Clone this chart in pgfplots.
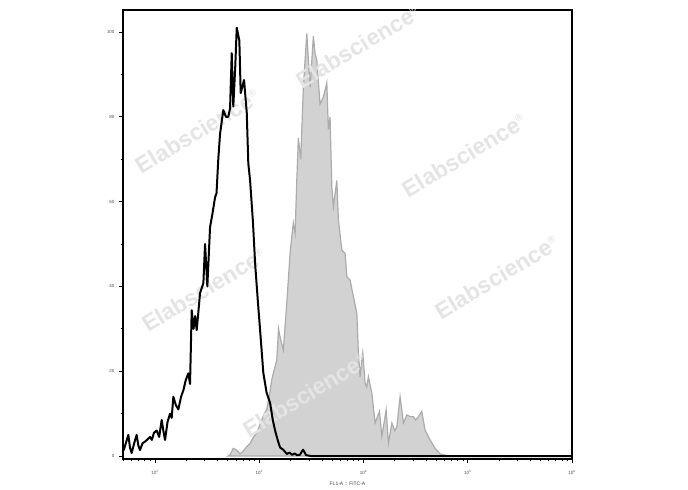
\documentclass[border=0pt]{standalone}
\usepackage{pgfplots}
\pgfplotsset{compat=1.18}
\usepackage{fontspec}
\setmainfont{Liberation Sans}
\definecolor{fillgray}{HTML}{D2D2D2}
\definecolor{edgegray}{HTML}{ABABAB}
\definecolor{wm}{HTML}{E4E4E4}
\begin{document}
\begin{tikzpicture}[x=1bp,y=1bp]
\path[use as bounding box] (0,0) rectangle (688,490);
\begin{axis}[
  at={(123bp,31bp)}, anchor=south west,
  scale only axis, width=449bp, height=449bp,
  xmin=1.693, xmax=6, ymin=-0.7, ymax=105.2,
  axis line style={line width=1.4pt},
  xtick={2,3,4,5,6},
  xticklabels={10\textsuperscript{2},10\textsuperscript{3},10\textsuperscript{4},10\textsuperscript{5},10\textsuperscript{6}},
  minor xtick={1.699,1.778,1.845,1.903,1.954,2.301,2.477,2.602,2.699,2.778,2.845,2.903,2.954,3.301,3.477,3.602,3.699,3.778,3.845,3.903,3.954,4.301,4.477,4.602,4.699,4.778,4.845,4.903,4.954,5.301,5.477,5.602,5.699,5.778,5.845,5.903,5.954},
  ytick={0,20,40,60,80,100},
  minor ytick={10,30,50,70,90},
  tick align=outside, tick pos=left,
  major tick length=4bp, minor tick length=2.5bp,
  tick style={line width=0.8pt, black},
  ticklabel style={font=\fontsize{4.5}{5}\selectfont, text=black!70},
  /pgf/number format/assume math mode=true,
  xticklabel style={yshift=-4bp},
  yticklabel style={xshift=-1bp},
  xlabel={FL1-A :: FITC-A},
  xlabel style={font=\fontsize{5}{6}\selectfont, text=black!75, yshift=0bp},
]
\addplot[fill=fillgray, draw=edgegray, line width=1.2pt] table {
2.701 0
2.720 0.3
2.750 1.8
2.784 1.4
2.816 0.5
2.847 1.2
2.880 2.2
2.912 3
2.945 4.5
2.976 5.4
3.000 7
3.024 8.5
3.050 10
3.072 11
3.095 14
3.120 18
3.140 20
3.168 22.6
3.185 30
3.200 28
3.231 25
3.264 36
3.296 48
3.327 55
3.344 52.6
3.360 65
3.375 75
3.398 70
3.423 87
3.456 99.7
3.470 94
3.488 87
3.519 99
3.535 95
3.552 93.4
3.583 83
3.615 84.7
3.648 88
3.663 77
3.679 80
3.696 63.5
3.711 58.8
3.744 65
3.759 55.7
3.792 48.6
3.823 47.8
3.840 42.3
3.871 41.5
3.903 37.6
3.936 33.7
3.951 24.3
3.967 18.7
3.984 22.6
3.993 24.3
4.015 17.2
4.031 16.3
4.047 18.7
4.080 14.8
4.111 7.8
4.153 10.5
4.176 4.6
4.217 10.9
4.239 3
4.272 7.8
4.300 6
4.320 6.9
4.351 14
4.383 7.8
4.416 9.7
4.447 9.3
4.479 9.3
4.500 8.5
4.527 9.3
4.559 10.5
4.591 6.1
4.639 3.8
4.687 1.8
4.735 0.5
4.780 0.2
4.831 0
} \closedcycle;
\node[rotate=31, text=wm, font=\fontsize{23}{23}\bfseries\selectfont] at (axis cs:3.95,96.7) {Elabscience\textsuperscript{\fontsize{10}{10}\selectfont ®}};
\node[rotate=31, text=wm, font=\fontsize{23}{23}\bfseries\selectfont] at (axis cs:2.41,76.6) {Elabscience\textsuperscript{\fontsize{10}{10}\selectfont ®}};
\node[rotate=31, text=wm, font=\fontsize{23}{23}\bfseries\selectfont] at (axis cs:4.97,71.0) {Elabscience\textsuperscript{\fontsize{10}{10}\selectfont ®}};
\node[rotate=31, text=wm, font=\fontsize{23}{23}\bfseries\selectfont] at (axis cs:2.47,39.2) {Elabscience\textsuperscript{\fontsize{10}{10}\selectfont ®}};
\node[rotate=31, text=wm, font=\fontsize{23}{23}\bfseries\selectfont] at (axis cs:5.28,42.2) {Elabscience\textsuperscript{\fontsize{10}{10}\selectfont ®}};
\node[rotate=31, text=wm, font=\fontsize{23}{23}\bfseries\selectfont] at (axis cs:3.44,14.4) {Elabscience\textsuperscript{\fontsize{10}{10}\selectfont ®}};
\addplot[black, line width=2pt, line join=round] table {
1.693 2
1.700 1.4
1.720 3
1.744 5
1.760 2
1.776 0.7
1.800 3
1.824 5
1.840 2.5
1.856 1.4
1.880 3
1.910 3.5
1.952 4.5
1.970 3.8
1.990 5.5
2.016 6
2.040 4.5
2.064 8.5
2.080 6
2.096 3.8
2.120 8
2.144 10
2.160 9
2.176 14
2.200 12
2.224 11
2.250 14
2.272 15.5
2.296 18
2.320 19.5
2.336 17
2.352 34.4
2.370 30
2.385 33
2.400 29.7
2.432 38.4
2.464 40.8
2.480 50
2.502 40
2.528 54
2.550 57
2.576 61
2.590 62
2.607 70
2.624 76
2.655 81.6
2.680 80
2.703 80
2.720 82
2.736 95
2.751 82.4
2.770 92
2.784 101
2.809 98
2.822 85.6
2.854 88.7
2.880 81
2.895 69
2.912 65
2.940 55
2.960 45.5
2.985 37
3.008 29.7
3.039 19.6
3.070 15
3.104 12.5
3.130 8.5
3.152 6
3.180 3.5
3.200 2
3.230 1.5
3.264 0.5
3.290 0.8
3.315 0.3
3.340 0.6
3.363 0.2
3.390 0.3
3.420 1.5
3.450 0.2
3.500 0
6.000 0
};
\end{axis}
\end{tikzpicture}
\end{document}
